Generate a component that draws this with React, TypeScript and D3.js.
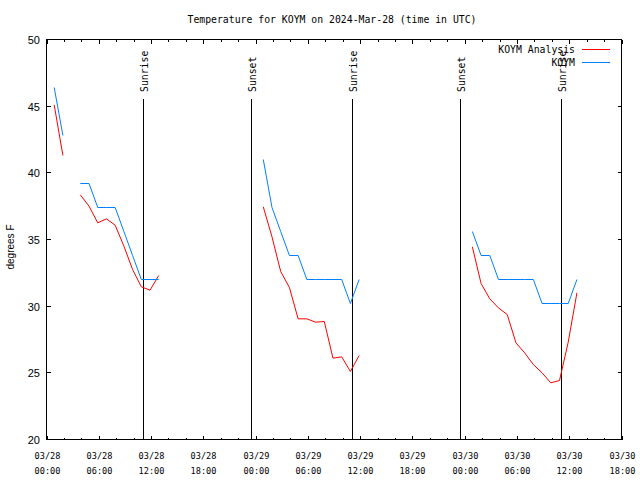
import React from 'react';
import * as d3 from 'd3';

const W = 640;
const H = 480;
const M = { left: 46.5, right: 621.5, top: 39.5, bottom: 439.5 };

const titleText = 'Temperature for KOYM on 2024-Mar-28 (time in UTC)';
const yLabel = 'degrees F';
const seriesNames = ['KOYM Analysis', 'KOYM'];
const seriesColors = ['#ff0000', '#0080ff'];

const obsTimes = [
  '2024-03-28T00:53Z', '2024-03-28T01:53Z', '2024-03-28T02:53Z', '2024-03-28T03:53Z',
  '2024-03-28T04:53Z', '2024-03-28T05:53Z', '2024-03-28T06:53Z', '2024-03-28T07:53Z',
  '2024-03-28T08:53Z', '2024-03-28T09:53Z', '2024-03-28T10:53Z', '2024-03-28T11:53Z',
  '2024-03-28T12:53Z', '2024-03-28T18:53Z',
  '2024-03-29T00:53Z', '2024-03-29T01:53Z', '2024-03-29T02:53Z', '2024-03-29T03:53Z',
  '2024-03-29T04:53Z', '2024-03-29T05:53Z', '2024-03-29T06:53Z', '2024-03-29T07:53Z',
  '2024-03-29T08:53Z', '2024-03-29T09:53Z', '2024-03-29T10:53Z', '2024-03-29T11:53Z',
  '2024-03-29T18:53Z',
  '2024-03-30T00:53Z', '2024-03-30T01:53Z', '2024-03-30T02:53Z', '2024-03-30T03:53Z',
  '2024-03-30T04:53Z', '2024-03-30T05:53Z', '2024-03-30T06:53Z', '2024-03-30T07:53Z',
  '2024-03-30T08:53Z', '2024-03-30T09:53Z', '2024-03-30T10:53Z', '2024-03-30T11:53Z',
  '2024-03-30T12:53Z',
];

const analysisValues: (number | null)[] = [
  45.1, 41.3, null, 38.35, 37.5, 36.25, 36.55, 36.07, 34.5, 32.75, 31.45, 31.2, 32.3, null,
  37.45, 35.2, 32.6, 31.4, 29.05, 29.05, 28.8, 28.85, 26.1, 26.2, 25.1, 26.3, null,
  34.45, 31.7, 30.55, 29.87, 29.37, 27.25, 26.5, 25.62, 25.0, 24.25, 24.42, 27.3, 31.0,
];

const obsValues: (number | null)[] = [
  46.4, 42.8, null, 39.2, 39.2, 37.4, 37.4, 37.4, 35.6, 33.8, 32, 32, 32, null,
  41, 37.4, 35.6, 33.8, 33.8, 32, 32, 32, 32, 32, 30.2, 32, null,
  35.6, 33.8, 33.8, 32, 32, 32, 32, 32, 30.2, 30.2, 30.2, 30.2, 32,
];

const eventNames = ['Sunrise', 'Sunset', 'Sunrise', 'Sunset', 'Sunrise'];
const eventTimes = [
  '2024-03-28T11:04Z', '2024-03-28T23:28Z', '2024-03-29T11:06Z',
  '2024-03-29T23:29Z', '2024-03-30T11:04Z',
];

const xStart = '2024-03-28T00:00Z';
const xEnd = '2024-03-30T18:00Z';
const yTicks = [20, 25, 30, 35, 40, 45, 50];

const MONO = '"DejaVu Sans Mono", monospace';
const SANS = '"Liberation Sans", Arial, sans-serif';

export default function App() {
  const x = d3.scaleUtc().domain([new Date(xStart), new Date(xEnd)]).range([M.left, M.right]);
  const y = d3.scaleLinear().domain([20, 50]).range([M.bottom, M.top]);

  const majorTicks = x.ticks(d3.utcHour.every(6)!);
  const minorTicks = x.ticks(d3.utcHour.every(2)!);
  const fmtDate = d3.utcFormat('%m/%d');
  const fmtTime = d3.utcFormat('%H:%M');

  const pts = (vals: (number | null)[]) =>
    obsTimes.map((t, i) => ({ t: new Date(t), v: vals[i] }));
  const line = d3
    .line<{ t: Date; v: number | null }>()
    .defined((d) => d.v != null)
    .x((d) => x(d.t))
    .y((d) => y(d.v as number));

  const series = [analysisValues, obsValues];

  return (
    <svg width={W} height={H} style={{ position: 'absolute', left: 0, top: 0, background: '#fff' }}>
      <rect x={0} y={0} width={W} height={H} fill="#fff" />
      <text x={332} y={23} textAnchor="middle" fontFamily={MONO} fontSize={9.8} fill="#000">
        {titleText}
      </text>

      {/* event lines */}
      {eventTimes.map((t, i) => {
        const xx = Math.round(x(new Date(t))) + 0.5;
        return (
          <g key={'ev' + i}>
            <line x1={xx} x2={xx} y1={99} y2={M.bottom} stroke="#000" strokeWidth={1} shapeRendering="crispEdges" />
            <text
              transform={`translate(${xx + 4},92) rotate(-90)`}
              textAnchor="start"
              fontFamily={MONO}
              fontSize={9.8}
              fill="#000"
            >
              {eventNames[i]}
            </text>
          </g>
        );
      })}

      {/* series */}
      {series.map((vals, i) => (
        <path key={'s' + i} d={line(pts(vals)) || ''} fill="none" stroke={seriesColors[i]} strokeWidth={1} />
      ))}

      {/* frame */}
      <rect
        x={M.left}
        y={M.top}
        width={M.right - M.left}
        height={M.bottom - M.top}
        fill="none"
        stroke="#000"
        strokeWidth={1}
        shapeRendering="crispEdges"
      />

      {/* x minor ticks */}
      {minorTicks.map((t, i) => {
        const xx = Math.round(x(t)) + 0.5;
        return (
          <g key={'mn' + i} shapeRendering="crispEdges">
            <line x1={xx} x2={xx} y1={M.bottom} y2={M.bottom - 2} stroke="#000" />
            <line x1={xx} x2={xx} y1={M.top} y2={M.top + 2} stroke="#000" />
          </g>
        );
      })}
      {/* x major ticks + labels */}
      {majorTicks.map((t, i) => {
        const xx = Math.round(x(t)) + 0.5;
        return (
          <g key={'mj' + i}>
            <line x1={xx} x2={xx} y1={M.bottom} y2={M.bottom - 4} stroke="#000" shapeRendering="crispEdges" />
            <line x1={xx} x2={xx} y1={M.top} y2={M.top + 4} stroke="#000" shapeRendering="crispEdges" />
            <text x={xx} y={459} textAnchor="middle" fontFamily={MONO} fontSize={8.6} fill="#000">
              {fmtDate(t)}
            </text>
            <text x={xx} y={474} textAnchor="middle" fontFamily={MONO} fontSize={8.6} fill="#000">
              {fmtTime(t)}
            </text>
          </g>
        );
      })}

      {/* y ticks */}
      {yTicks.map((v, i) => {
        const yy = Math.round(y(v) - 0.5) + 0.5;
        return (
          <g key={'yt' + i}>
            <line x1={M.left} x2={M.left + 4} y1={yy} y2={yy} stroke="#000" shapeRendering="crispEdges" />
            <line x1={M.right} x2={M.right - 4} y1={yy} y2={yy} stroke="#000" shapeRendering="crispEdges" />
            <text x={40} y={yy + 4} textAnchor="end" fontFamily={SANS} fontSize={11} fill="#000">
              {v}
            </text>
          </g>
        );
      })}

      <text
        transform={`translate(14,${247}) rotate(-90)`}
        textAnchor="middle"
        fontFamily={SANS}
        fontSize={10}
        fill="#000"
      >
        {yLabel}
      </text>

      {/* legend */}
      {seriesNames.map((name, i) => {
        const ly = 49.5 + i * 13;
        return (
          <g key={'lg' + i}>
            <text x={575} y={ly + 3.5} textAnchor="end" fontFamily={MONO} fontSize={9.8} fill="#000">
              {name}
            </text>
            <line x1={582} x2={610} y1={ly} y2={ly} stroke={seriesColors[i]} strokeWidth={1} shapeRendering="crispEdges" />
          </g>
        );
      })}
    </svg>
  );
}
